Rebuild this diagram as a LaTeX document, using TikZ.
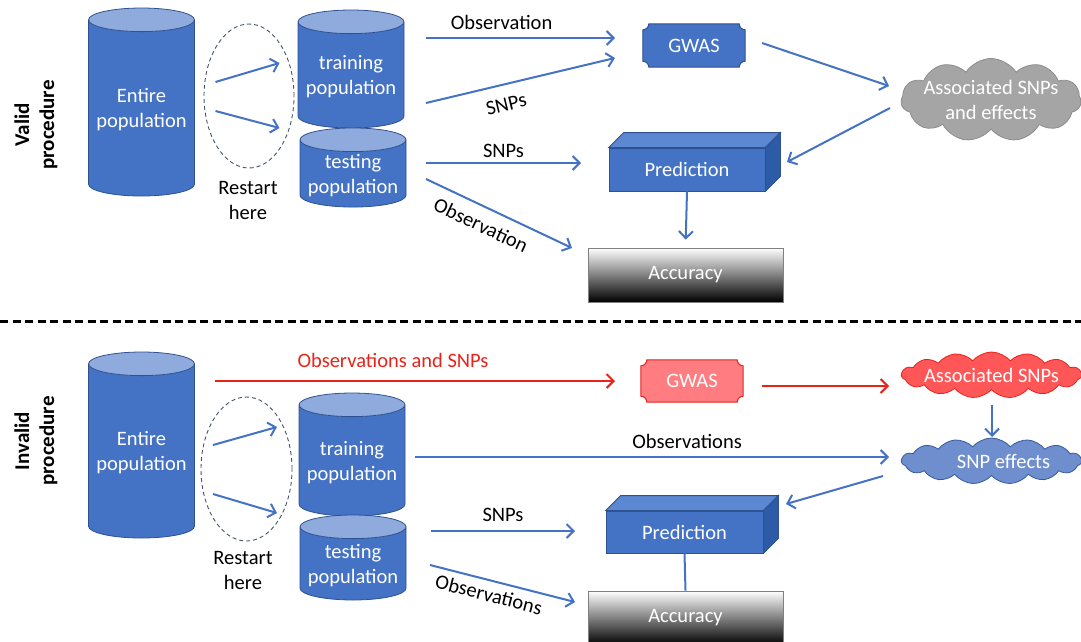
\documentclass[tikz,border=0pt]{standalone}
\usepackage{fontspec}
\setmainfont{Carlito}
\usetikzlibrary{shapes.geometric,shapes.symbols,arrows.meta,calc,positioning}
\pgfdeclarelayer{background}
\pgfsetlayers{background,main}

\definecolor{ofblue}{HTML}{4472C4}
\definecolor{ofdark}{HTML}{2F528F}
\definecolor{oflight}{HTML}{8FAADC}
\definecolor{ptop}{HTML}{5B87D3}
\definecolor{pside}{HTML}{2E5BA8}
\definecolor{ofred}{HTML}{E8231B}
\definecolor{gwasred}{HTML}{FF7C80}
\definecolor{cloudred}{HTML}{FF5757}
\definecolor{cloudblue}{HTML}{6E8ECE}
\definecolor{cloudgray}{HTML}{A5A5A5}
\definecolor{ringgray}{HTML}{44546A}

\tikzset{
  txt/.style={font=\fontsize{20.5}{25}\selectfont, align=center, inner sep=2pt},
  lbl/.style={txt, text=black},
  side/.style={txt, font=\fontsize{21}{25}\selectfont\bfseries, rotate=90},
  popcyl/.style={txt, text=white, cylinder, shape border rotate=90, aspect=0.25,
    draw=ofdark, line width=0.8pt, cylinder uses custom fill,
    cylinder body fill=ofblue, cylinder end fill=oflight,
    minimum width=106pt, anchor=shape center},
  ring/.style={ellipse, draw=ringgray, line width=0.9pt, dash pattern=on 4pt off 3pt,
    inner sep=0pt},
  gwasbox/.style={txt, text=white, minimum width=102pt, minimum height=43pt},
  cloudbox/.style={txt, text=white, cloud, cloud puffs=11, cloud puff arc=115,
    line width=0.8pt, minimum width=180pt, inner sep=0pt},
  flatcloud/.style={cloudbox, cloud puffs=15, cloud puff arc=100, minimum height=46pt},
  predbox/.style={txt, text=white, fill=ofblue, draw=ofdark, line width=0.8pt,
    minimum width=156pt, minimum height=43pt},
  accbox/.style={txt, text=white, draw=black!50, line width=0.8pt,
    top color=white, bottom color=black, minimum width=195pt, minimum height=54pt},
  arr/.style={draw=ofblue, line width=2pt, -{Straight Barb[length=7pt,width=14pt]}},
  redarr/.style={arr, draw=ofred}
}

% табличка с вогнутыми углами
\newcommand{\plaque}[3]{%
  \filldraw[fill=#2, draw=#3, line width=1pt]
    ([xshift=6pt]#1.north west) -- ([xshift=-6pt]#1.north east)
    arc[start angle=180, end angle=270, radius=6pt]
    -- ([yshift=6pt]#1.south east)
    arc[start angle=90, end angle=180, radius=6pt]
    -- ([xshift=6pt]#1.south west)
    arc[start angle=0, end angle=90, radius=6pt]
    -- ([yshift=-6pt]#1.north west)
    arc[start angle=270, end angle=360, radius=6pt] -- cycle;}

% верх и бок объёмного блока
\newcommand{\boxfaces}[1]{%
  \filldraw[fill=ptop, draw=ofdark, line width=0.8pt]
    (#1.north west) -- ++(15,-15) -- ($(#1.north east)+(15,-15)$) -- (#1.north east) -- cycle;
  \filldraw[fill=pside, draw=ofdark, line width=0.8pt]
    (#1.north east) -- ++(15,-15) -- ($(#1.south east)+(15,-15)$) -- (#1.south east) -- cycle;}

\newcommand{\zw}[1]{\makebox[0pt]{#1}}

\begin{document}
\begin{tikzpicture}[x=1pt, y=-1pt]
    \useasboundingbox (0,0) rectangle (1081,641);

    % Верхняя схема
    \node[side] (lblA) at (36,125) {Valid\\procedure};
    \node[popcyl, minimum height=188pt] (entA) at (141.5,102) {Entire\\population};
    \node[ring, minimum width=90pt, minimum height=144pt] (ringA) at (249,96) {};
    \node[lbl] (restA) at (248,200) {Restart\\here};
    \node[popcyl, minimum height=118pt] (trainA) at (351,69) {training\\population};
    \node[popcyl, minimum height=77pt] (testA) at (353,167.5) {testing\\population};
    \node[gwasbox] (gwasA) at (694,45.5) {GWAS};
    \node[cloudbox, fill=cloudgray, draw=black!45, minimum height=83pt] (effA)
        at (991,100) {\zw{Associated SNPs}\\\zw{and effects}};
    \node[predbox] (predA) at (687,169.5) {Prediction};
    \boxfaces{predA}
    \node[accbox] (accA) at (685.5,275) {Accuracy};

    \draw[arr] ($(trainA.shape center)+(75,-31)$)
        -- node[lbl, above=5pt, pos=0.4] {Observation} ($(gwasA)+(-79,-7.5)$);
    \draw[arr] ($(trainA.shape center)+(75,34)$)
        -- node[lbl, sloped, below=10pt, pos=0.4] {SNPs} ($(gwasA)+(-79,12.5)$);
    \draw[arr] ($(gwasA)+(68,-2.5)$) -- ($(effA)+(-102,-14)$);
    \draw[arr] ($(effA)+(-101,8)$) -- ($(predA)+(100,-7.5)$);
    \draw[arr] ($(testA.shape center)+(73,-4.5)$)
        -- node[lbl, above=2pt] {SNPs} ($(predA)+(-106,-6.5)$);
    \draw[arr] ($(testA.shape center)+(73,11.5)$)
        -- node[lbl, sloped, below=8pt, pos=0.43] {Observation} ($(accA)+(-113.5,-27)$);
    \draw[arr, shorten >=8pt] (predA.south) -- (accA.north);

    % Разделитель
    \draw[line width=3pt, dash pattern=on 8pt off 4.5pt] (0,321) -- (1081,321);

    % Нижняя схема
    \node[side] (lblB) at (36,441) {Invalid\\procedure};
    \node[popcyl, minimum height=186pt] (entB) at (141.5,445) {Entire\\population};
    \node[ring, minimum width=91pt, minimum height=144pt] (ringB) at (246.5,469) {};
    \node[lbl] (restB) at (243,570) {Restart\\here};
    \node[popcyl, minimum height=123pt] (trainB) at (352,454.5) {training\\population};
    \node[popcyl, minimum height=85pt] (testB) at (353,557.5) {testing\\population};
    \node[gwasbox, minimum height=42pt] (gwasB) at (692,381) {GWAS};
    \node[flatcloud, fill=cloudred, draw=ofred] (snpR)
        at (991.5,375) {\zw{Associated SNPs}};
    \node[flatcloud, fill=cloudblue, draw=ofblue!80!black] (effB)
        at (991.5,461) {\zw{\hspace{24pt}SNP effects}};
    \node[predbox, minimum width=157pt, minimum height=42pt] (predB) at (684.5,532) {Prediction};
    \boxfaces{predB}
    \node[accbox] (accB) at (685.5,618) {Accuracy};

    \draw[redarr] ($(entB.shape center)+(73.5,-64)$)
        -- node[lbl, text=ofred, above=10pt, pos=0.445] {Observations and SNPs} ($(gwasB)+(-77,0)$);
    \draw[redarr] ($(gwasB)+(70,5)$) -- ($(snpR)+(-102.5,11)$);
    \draw[arr] ($(snpR)+(0.5,30)$) -- ($(effB)+(0.5,-24)$);
    \draw[arr] ($(trainB.shape center)+(63,2.5)$)
        -- node[lbl, above=5pt, pos=0.574] {Observations} ($(effB)+(-102.5,-4)$);
    \draw[arr] ($(effB)+(-108.5,15)$) -- ($(predB)+(101.5,-28)$);
    \draw[arr] ($(testB.shape center)+(78,-26.5)$)
        -- node[lbl, above=6pt] {SNPs} ($(predB)+(-109.5,-1)$);
    \draw[arr] ($(testB.shape center)+(77,7.5)$)
        -- node[lbl, sloped, below=4pt, pos=0.43] {Observations} ($(accB)+(-110.5,-16)$);
    \draw[draw=ofblue, line width=2pt] (predB.south) -- (accB.north);

    % Повторить с начала
    \foreach \r/\sy/\ey in {ringA/-14/-33, ringA/15/32, ringB/-24/-42, ringB/25/44}
        \draw[arr] ($(\r)+(-33.5,\sy)$) -- ($(\r)+(30.5,\ey)$);

    % Таблички GWAS под текстом
    \begin{pgfonlayer}{background}
        \plaque{gwasA}{ofblue}{ofdark}
        \plaque{gwasB}{gwasred}{ofred}
    \end{pgfonlayer}
\end{tikzpicture}
\end{document}
